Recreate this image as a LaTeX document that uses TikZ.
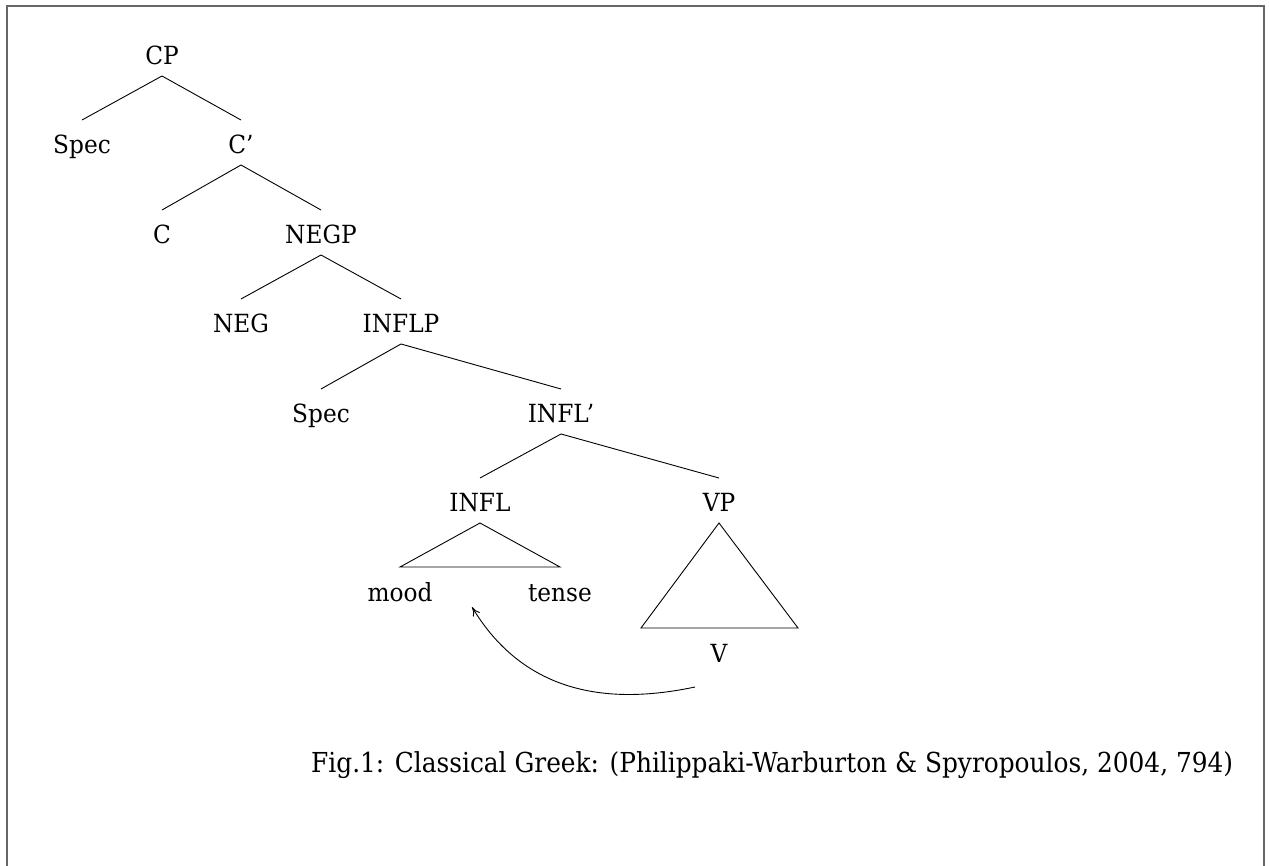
\documentclass[tikz,border=0pt]{standalone}
\usepackage{fontspec}
\setmainfont{DejaVu Serif}[FakeStretch=0.93]
\usetikzlibrary{arrows.meta}
\newsavebox\capbox
\newlength\capw
\newcommand\fitcaption[2]{%
  \sbox\capbox{#2}%
  \setlength\capw{\wd\capbox}%
  \pgfmathsetmacro\capsx{#1/\capw}%
  \scalebox{\capsx}[1]{\usebox\capbox}}
\begin{document}
\begin{tikzpicture}[x=1pt,y=-1pt,
  lab/.style={anchor=base,inner sep=0pt,font=\fontsize{25}{30}\selectfont},
  edge/.style={line width=0.9pt,black},
  frame/.style={line width=2pt,draw=black!60},
  move/.style={line width=0.9pt,-{To[length=9pt,width=8pt]}}]
\useasboundingbox (0,0) rectangle (1270,866);
\draw[frame] (6.5,866) -- (6.5,6) -- (1264,6) -- (1264,866);
% nodes
\node[lab] (CP) at (162,65) {CP};
\node[lab] (Spec1) at (82,154) {Spec};
\node[lab] (Cbar) at (241,154) {C’};
\node[lab] (C) at (162,244) {C};
\node[lab] (NEGP) at (321,244) {NEGP};
\node[lab] (NEG) at (241,333) {NEG};
\node[lab] (INFLP) at (401,333) {INFLP};
\node[lab] (Spec2) at (321,423) {Spec};
\node[lab] (INFLbar) at (561,423) {INFL\kern-2pt’};
\node[lab] (INFL) at (480,512) {INFL};
\node[lab] (VP) at (719,512) {VP};
\node[lab] (mood) at (400,601) {mood};
\node[lab] (tense) at (560,601) {tense};
\node[lab] (V) at (719,662) {V};
% branches
\foreach \p/\c in {CP/Spec1,CP/Cbar,Cbar/C,Cbar/NEGP,NEGP/NEG,NEGP/INFLP,INFLP/Spec2,INFLP/INFLbar,INFLbar/INFL,INFLbar/VP}
  \draw[edge] ([yshift=-11pt]\p.base) -- ([yshift=34pt]\c.base);
% INFL triangle
\draw[edge] ([yshift=-11pt]INFL.base) -- ([yshift=34pt]mood.base) -- ([yshift=34pt]tense.base) -- cycle;
% VP triangle
\draw[edge] ([yshift=-11pt]VP.base) -- ([shift={(-78,-34)}]V.base) -- ([shift={(79,-34)}]V.base) -- cycle;
% movement arrow
\draw[move] ([shift={(-24,25)}]V.base) .. controls (610,705) and (525,695) .. ([shift={(72,6)}]mood.base);
% caption
\node[anchor=base west,inner sep=0pt] (caption) at (311,772) {\fitcaption{922}{\fontsize{27.5}{34}\selectfont Fig.1: Classical Greek: (Philippaki-Warburton \& Spyropoulos, 2004, 794)}};
\end{tikzpicture}
\end{document}
